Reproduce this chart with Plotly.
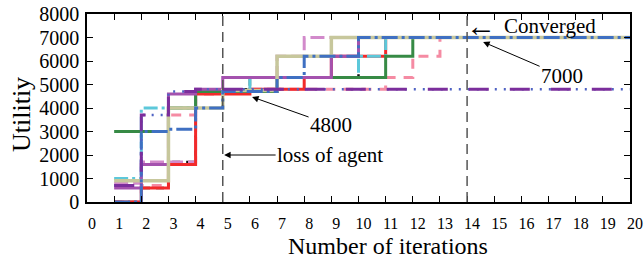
import plotly.graph_objects as go

iterations = list(range(1, 21))

green = [3000, 3000, 4000, 4700, 4700, 4700, 5300, 5300, 5300, 5300, 6200, 7000, 7000, 7000, 7000, 7000, 7000, 7000, 7000, 7000]
khaki = [900, 900, 4000, 4000, 4750, 4750, 6200, 6200, 7000, 7000, 7000, 7000, 7000, 7000, 7000, 7000, 7000, 7000, 7000, 7000]
purple = [600, 1600, 4600, 4800, 5300, 5300, 5300, 5300, 6200, 7000, 7000, 7000, 7000, 7000, 7000, 7000, 7000, 7000, 7000, 7000]
orchid = [800, 1700, 1700, 4700, 4700, 4800, 6200, 7000, 7000, 7000, 7000, 7000, 7000, 7000, 7000, 7000, 7000, 7000, 7000, 7000]
blue = [0, 3000, 3100, 4000, 4700, 4700, 5300, 6200, 6200, 7000, 7000, 7000, 7000, 7000, 7000, 7000, 7000, 7000, 7000, 7000]
cyan = [1000, 4000, 4000, 4700, 4700, 5300, 5300, 5300, 5300, 6200, 7000, 7000, 7000, 7000, 7000, 7000, 7000, 7000, 7000, 7000]
red = [0, 600, 1600, 4600, 4600, 4800, 4800, 5300, 6200, 6200, 7000, 7000, 7000, 7000, 7000, 7000, 7000, 7000, 7000, 7000]
pink = [0, 700, 3700, 4600, 4700, 4700, 4800, 4800, 4800, 4800, 5300, 6200, 7000, 7000, 7000, 7000, 7000, 7000, 7000, 7000]
black = [0, 600, 1700, 4800, 4800, 5300, 5300, 5300, 5300, 7000, 7000, 7000, 7000, 7000, 7000, 7000, 7000, 7000, 7000, 7000]
lost = [700, 3700, 4700, 4800, 4800, 4800, 4800, 4800, 4800, 4800, 4800, 4800, 4800, 4800, 4800, 4800, 4800, 4800, 4800, 4800]

x_ticks = list(range(0, 21))
y_ticks = list(range(0, 8001, 1000))
event_x = [5, 14]

series = [
    (black, "#111111", 2.5, "8px,6px"),
    (pink, "#F58BA3", 3, "10px,8px"),
    (orchid, "#D28ACB", 3, "14px,5px"),
    (red, "#F22A2A", 3, "solid"),
    (cyan, "#5CC8DA", 3, "14px,4px,3px,4px"),
    (green, "#378A45", 3, "solid"),
    (purple, "#A452AE", 3, "solid"),
    (khaki, "#C7C79C", 3.5, "solid"),
    (blue, "#3F70C2", 3, "16px,4px,3px,4px"),
    (lost, "#4F63C4", 2.5, "2px,7px"),
    (lost, "#7B2E9C", 3, "20px,21px"),
]

fig = go.Figure()
for ys, col, w, dash in series:
    fig.add_trace(go.Scatter(x=iterations, y=ys, mode="lines", line_shape="hv",
                             line=dict(color=col, width=w, dash=dash), showlegend=False))

for ex in event_x:
    fig.add_shape(type="line", x0=ex, x1=ex, y0=0, y1=1, xref="x", yref="paper",
                  line=dict(color="#555555", width=1.5, dash="10px,6px"))

font_family = "Liberation Serif, Times New Roman, serif"

fig.update_layout(
    width=644, height=260,
    margin=dict(l=87, r=14, t=14, b=58),
    paper_bgcolor="white", plot_bgcolor="white",
    font=dict(family=font_family, color="black"),
)
fig.update_xaxes(range=[0, 20], tickvals=x_ticks, ticktext=[str(v) for v in x_ticks],
                 ticks="inside", ticklen=6, tickcolor="black", mirror="ticks", automargin=False,
                 showline=True, linecolor="black", linewidth=1.5, showgrid=False, zeroline=False,
                 ticklabeloverflow="allow",
                 tickfont=dict(size=16, family=font_family), ticklabelshift=5, ticklabelstandoff=6)
fig.update_yaxes(range=[0, 8000], tickvals=y_ticks, ticktext=[str(v) for v in y_ticks],
                 ticks="inside", ticklen=6, tickcolor="black", mirror="ticks", automargin=False,
                 showline=True, linecolor="black", linewidth=1.5, showgrid=False, zeroline=False,
                 ticklabeloverflow="allow",
                 tickfont=dict(size=20, family=font_family), ticklabelstandoff=2)

ann_font = dict(size=21, family=font_family, color="black")
fig.add_annotation(x=5.05, y=2000, ax=106, ay=0, text="loss of agent", showarrow=True,
                   arrowhead=2, arrowsize=1.3, arrowwidth=1, arrowcolor="black", font=ann_font)
fig.add_annotation(x=6.08, y=4470, ax=79, ay=28, text="4800", showarrow=True,
                   arrowhead=2, arrowsize=1.3, arrowwidth=1, arrowcolor="black", font=ann_font)
fig.add_annotation(x=14.59, y=6810, ax=79, ay=34, text="7000", showarrow=True,
                   arrowhead=2, arrowsize=1.3, arrowwidth=1, arrowcolor="black", font=ann_font)
fig.add_annotation(x=15.28, y=7490, text="Converged", showarrow=False, font=ann_font,
                   xanchor="left", yanchor="middle")
fig.add_annotation(x=14.52, y=7520, text="\u2190", showarrow=False,
                   font=dict(size=30, family=font_family, color="black"),
                   xanchor="center", yanchor="middle")

fig.add_annotation(x=-0.1197, y=0.4628, xref="paper", yref="paper", text="Utilitiy",
                   textangle=-90, showarrow=False, font=dict(size=26, family=font_family),
                   xanchor="center", yanchor="middle")
fig.add_annotation(x=0.5543, y=-0.232, xref="paper", yref="paper", text="Number of iterations",
                   showarrow=False, font=dict(size=24, family=font_family),
                   xanchor="center", yanchor="middle")

fig.write_html("out.html", config={"displayModeBar": False},
               post_script="document.body.style.margin='0';")
